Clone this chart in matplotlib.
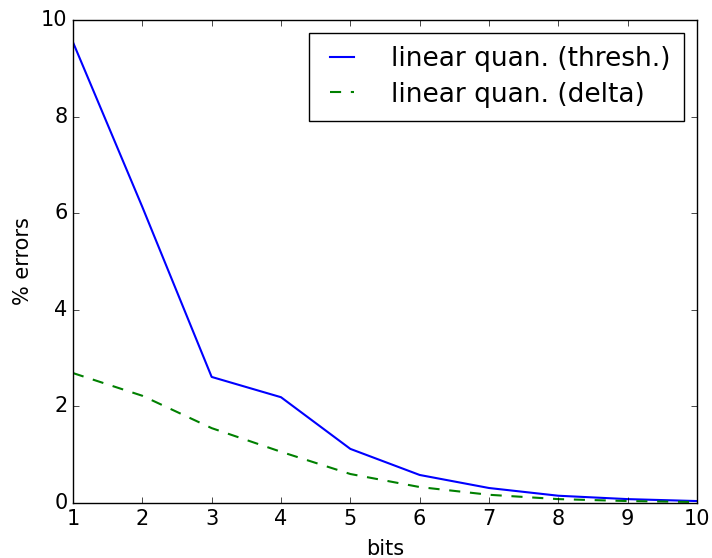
import matplotlib
matplotlib.use("Agg")
import matplotlib.pyplot as plt

plt.style.use("classic")

bits = [1, 2, 3, 4, 5, 6, 7, 8, 9, 10]
err_thresh = [9.54, 6.13, 2.61, 2.19, 1.12, 0.58, 0.31, 0.15, 0.08, 0.04]
err_delta = [2.69, 2.22, 1.55, 1.06, 0.60, 0.33, 0.17, 0.08, 0.04, 0.02]

fig = plt.figure(figsize=(7.12, 5.58), dpi=100)
ax = fig.add_axes([0.1025, 0.0986, 0.8765, 0.8655])

ax.plot(bits, err_thresh, "b-", lw=1.5, label="linear quan. (thresh.)")
ax.plot(bits, err_delta, "g--", lw=1.5, dashes=(8, 7), label="linear quan. (delta)")

ax.set_xlim(1, 10)
ax.set_ylim(0, 10)
ax.set_xticks(range(1, 11))
ax.set_yticks([0, 2, 4, 6, 8, 10])
ax.tick_params(labelsize=15)

ax.set_xlabel("bits", fontsize=15)
ax.set_ylabel("% errors", fontsize=15)
ax.xaxis.set_label_coords(0.5, -0.075)
ax.yaxis.set_label_coords(-0.064, 0.5)

ax.legend(loc="upper right", fontsize=19, handlelength=1.5, handletextpad=1.1,
          labelspacing=0.35, borderpad=0.5, borderaxespad=0.5)

fig.savefig("out.png", dpi=100)
